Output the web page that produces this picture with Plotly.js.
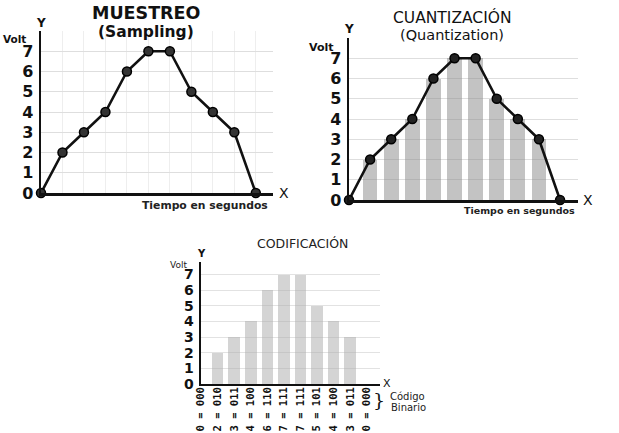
<!DOCTYPE html>
<html>
<head>
<meta charset="utf-8">
<script src="https://cdn.plot.ly/plotly-3.0.1.min.js"></script>
<style>html,body{margin:0;padding:0;background:#fff}#chart{width:619px;height:433px}</style>
</head>
<body>
<div id="chart"></div>
<script>
// ---- data ----
const time = [0, 1, 2, 3, 4, 5, 6, 7, 8, 9, 10];
const volts = [0, 2, 3, 4, 6, 7, 7, 5, 4, 3, 0];
const binaryCodes = ['000', '010', '011', '100', '110', '111', '111', '101', '100', '011', '000'];
const yTicks = [0, 1, 2, 3, 4, 5, 6, 7];
const codeLabels = volts.map((v, i) => v + ' = ' + binaryCodes[i]);

const W = 619, H = 433;
const px = x => x / W;
const py = y => 1 - y / H;

const FONT = 'DejaVu Sans, Verdana, sans-serif';

const traces = [
  // Panel 1: sampling
  {x: time, y: volts, xaxis: 'x', yaxis: 'y', type: 'scatter', mode: 'lines+markers',
   line: {color: '#111', width: 2.6}, cliponaxis: false,
   marker: {size: 9, color: '#333', line: {color: '#000', width: 1.5}}, hoverinfo: 'skip'},
  // Panel 2: quantization bars + line
  {x: time, y: volts, xaxis: 'x2', yaxis: 'y2', type: 'bar', width: 0.7,
   marker: {color: 'rgba(135,135,135,0.5)', line: {width: 0}}, hoverinfo: 'skip'},
  {x: time, y: volts, xaxis: 'x2', yaxis: 'y2', type: 'scatter', mode: 'lines+markers',
   line: {color: '#111', width: 2.6}, cliponaxis: false,
   marker: {size: 9, color: '#222', line: {color: '#000', width: 1.5}}, hoverinfo: 'skip'},
  // Panel 3: coding bars
  {x: time, y: volts, xaxis: 'x3', yaxis: 'y3', type: 'bar', width: 0.7,
   marker: {color: 'rgba(170,170,170,0.5)', line: {width: 0}}, hoverinfo: 'skip'}
];

const yAx = (dom, range, size) => ({
  domain: dom, range: range, tickvals: yTicks, ticks: '', showline: true, linecolor: '#111', linewidth: 2.5,
  showgrid: true, gridcolor: '#dedede', gridwidth: 1, zeroline: false, fixedrange: true,
  tickfont: {family: FONT, size: size, color: '#111', weight: 'bold'}, ticklabelstandoff: 2
});

const layout = {
  width: W, height: H, margin: {l: 0, r: 0, t: 0, b: 0},
  paper_bgcolor: '#fff', plot_bgcolor: 'rgba(0,0,0,0)', showlegend: false,
  bargap: 0,
  xaxis: {domain: [px(41), px(273)], range: [0, 10.8], anchor: 'y', showticklabels: false, ticks: '',
    showline: true, linecolor: '#111', linewidth: 2.5, showgrid: true, gridcolor: '#eeeeee', dtick: 1,
    zeroline: false, fixedrange: true},
  yaxis: Object.assign(yAx([py(193), py(31)], [0, 8], 16), {anchor: 'x'}),
  xaxis2: {domain: [px(349), px(578)], range: [0, 10.85], anchor: 'y2', showticklabels: false, ticks: '',
    showline: true, linecolor: '#111', linewidth: 2.5, showgrid: false, zeroline: false, fixedrange: true},
  yaxis2: Object.assign(yAx([py(200), py(38)], [0, 8], 16), {anchor: 'x2'}),
  xaxis3: {domain: [px(201), px(380)], range: [0, 10.8], anchor: 'y3', tickvals: time, ticktext: codeLabels,
    tickangle: -90, ticks: '', showline: true, linecolor: '#111', linewidth: 2, showgrid: false,
    zeroline: false, fixedrange: true, ticklabelstandoff: -3,
    tickfont: {family: 'DejaVu Sans Mono, monospace', size: 10.5, color: '#111', weight: 'bold'}},
  yaxis3: Object.assign(yAx([py(384), py(262)], [0, 7.8], 14), {anchor: 'x3', gridcolor: '#e2e2e2'}),
  annotations: [
    // Panel 1
    {text: 'MUESTREO', x: px(146), y: py(13), font: {family: FONT, size: 17.5, color: '#111', weight: 'bold'}},
    {text: '(Sampling)', x: px(146), y: py(32), font: {family: FONT, size: 15.5, color: '#111', weight: 'bold'}},
    {text: 'Volt', x: px(14), y: py(39), font: {family: FONT, size: 10.5, color: '#111', weight: 'bold'}},
    {text: 'Y', x: px(41), y: py(23), font: {family: FONT, size: 12, color: '#111', weight: 'bold'}},
    {text: 'X', x: px(284), y: py(193), font: {family: FONT, size: 14, color: '#111'}},
    {text: 'Tiempo en segundos', x: px(205), y: py(206), font: {family: FONT, size: 10.8, color: '#222', weight: 'bold'}},
    // Panel 2
    {text: 'CUANTIZACIÓN', x: px(452), y: py(17), font: {family: FONT, size: 15.5, color: '#111'}},
    {text: '(Quantization)', x: px(452), y: py(35), font: {family: FONT, size: 14.5, color: '#111'}},
    {text: 'Volt', x: px(321), y: py(47), font: {family: FONT, size: 11, color: '#111', weight: 'bold'}},
    {text: 'Y', x: px(349), y: py(29), font: {family: FONT, size: 12, color: '#111', weight: 'bold'}},
    {text: 'X', x: px(588), y: py(200), font: {family: FONT, size: 14, color: '#111'}},
    {text: 'Tiempo en segundos', x: px(519), y: py(210), font: {family: FONT, size: 9.5, color: '#222', weight: 'bold'}},
    // Panel 3
    {text: 'CODIFICACIÓN', x: px(302), y: py(243), font: {family: FONT, size: 12.5, color: '#222'}},
    {text: 'Volt', x: px(178), y: py(265), font: {family: FONT, size: 9, color: '#222'}},
    {text: 'Y', x: px(201), y: py(253), font: {family: FONT, size: 10, color: '#111', weight: 'bold'}},
    {text: 'X', x: px(387), y: py(383), font: {family: FONT, size: 11, color: '#111'}},
    {text: '}', x: px(379), y: py(400), font: {family: 'DejaVu Serif, serif', size: 19, color: '#111'}},
    {text: 'Código', x: px(407), y: py(396), font: {family: FONT, size: 10, color: '#222'}},
    {text: 'Binario', x: px(408), y: py(407), font: {family: FONT, size: 10, color: '#222'}}
  ].map(a => Object.assign({xref: 'paper', yref: 'paper', showarrow: false, xanchor: 'center', yanchor: 'middle'}, a))
};

Plotly.newPlot('chart', traces, layout, {staticPlot: true, displayModeBar: false});
</script>
</body>
</html>
